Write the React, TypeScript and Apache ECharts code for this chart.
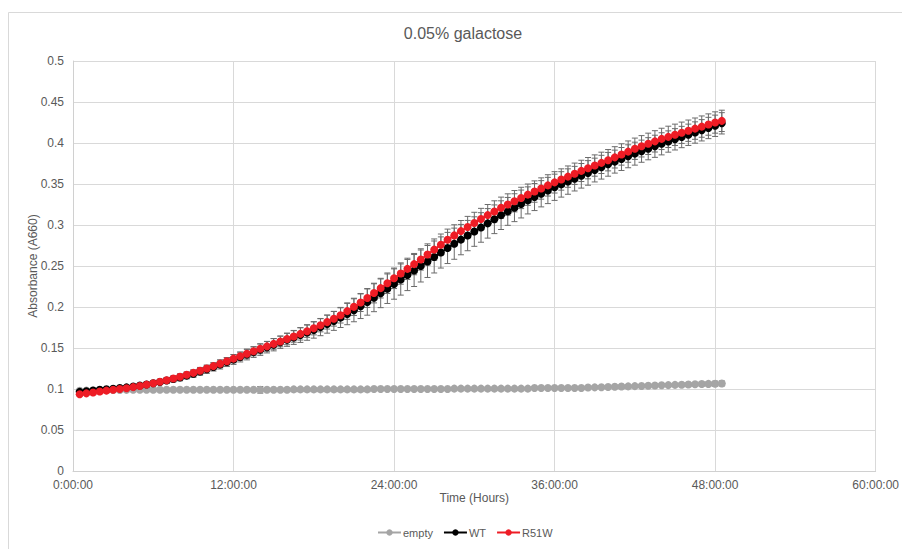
import React, { useEffect, useRef } from "react";
import * as echarts from "echarts";

const title = "0.05% galactose";
const seriesNames = ["empty", "WT", "R51W"];
const seriesColors = ["#A5A5A5", "#000000", "#EE1C25"];
const xTicks = [0, 12, 24, 36, 48, 60];

const hours = [
  0.5, 1, 1.5, 2, 2.5, 3, 3.5, 4, 4.5, 5, 5.5, 6, 6.5, 7, 7.5, 8,
  8.5, 9, 9.5, 10, 10.5, 11, 11.5, 12, 12.5, 13, 13.5, 14, 14.5, 15, 15.5, 16,
  16.5, 17, 17.5, 18, 18.5, 19, 19.5, 20, 20.5, 21, 21.5, 22, 22.5, 23, 23.5, 24,
  24.5, 25, 25.5, 26, 26.5, 27, 27.5, 28, 28.5, 29, 29.5, 30, 30.5, 31, 31.5, 32,
  32.5, 33, 33.5, 34, 34.5, 35, 35.5, 36, 36.5, 37, 37.5, 38, 38.5, 39, 39.5, 40,
  40.5, 41, 41.5, 42, 42.5, 43, 43.5, 44, 44.5, 45, 45.5, 46, 46.5, 47, 47.5, 48,
  48.5,
];

const emptyValues = [
  0.0978, 0.098, 0.0982, 0.0984, 0.0986, 0.0987, 0.0988, 0.0989,
  0.099, 0.099, 0.099, 0.099, 0.099, 0.099, 0.099, 0.099,
  0.099, 0.099, 0.099, 0.099, 0.099, 0.099, 0.099, 0.099,
  0.099, 0.099, 0.099, 0.099, 0.099, 0.099, 0.099, 0.099,
  0.0995, 0.0995, 0.0995, 0.0995, 0.0995, 0.0995, 0.0995, 0.0995,
  0.0995, 0.0995, 0.0995, 0.0995, 0.1, 0.1, 0.1, 0.1,
  0.1, 0.1, 0.1, 0.1, 0.1, 0.1, 0.1, 0.1,
  0.1005, 0.1005, 0.1005, 0.1005, 0.1005, 0.1005, 0.1005, 0.1005,
  0.1005, 0.1005, 0.1005, 0.1005, 0.1012, 0.1012, 0.1012, 0.1012,
  0.1012, 0.1012, 0.1012, 0.1012, 0.1018, 0.102, 0.1022, 0.1025,
  0.1027, 0.103, 0.1032, 0.1035, 0.1037, 0.104, 0.1042, 0.1045,
  0.1047, 0.105, 0.1052, 0.1055, 0.1057, 0.106, 0.1062, 0.1065,
  0.1068,
];

const wtValues = [
  0.0965, 0.0973, 0.0981, 0.099, 0.0997, 0.1004, 0.1012, 0.102,
  0.103, 0.1042, 0.1055, 0.107, 0.1086, 0.1103, 0.1121, 0.114,
  0.1163, 0.1187, 0.1213, 0.124, 0.1269, 0.1299, 0.1329, 0.136,
  0.139, 0.142, 0.145, 0.148, 0.151, 0.154, 0.157, 0.16,
  0.1629, 0.1658, 0.1689, 0.172, 0.1755, 0.1791, 0.183, 0.187,
  0.1914, 0.196, 0.2009, 0.206, 0.2113, 0.2167, 0.2223, 0.228,
  0.2335, 0.239, 0.2445, 0.25, 0.2555, 0.261, 0.2665, 0.272,
  0.2772, 0.2822, 0.2871, 0.292, 0.297, 0.302, 0.307, 0.312,
  0.3166, 0.3211, 0.3256, 0.33, 0.3341, 0.3381, 0.3421, 0.346,
  0.3495, 0.353, 0.3565, 0.36, 0.3635, 0.367, 0.3705, 0.374,
  0.3773, 0.3805, 0.3838, 0.387, 0.39, 0.393, 0.396, 0.399,
  0.4018, 0.4045, 0.4073, 0.41, 0.4128, 0.4155, 0.4183, 0.421,
  0.424,
];

const r51wValues = [
  0.0935, 0.0947, 0.0958, 0.097, 0.098, 0.099, 0.1, 0.101,
  0.1023, 0.1037, 0.1053, 0.107, 0.1088, 0.1107, 0.1128, 0.115,
  0.1173, 0.1197, 0.1223, 0.125, 0.1279, 0.1309, 0.1339, 0.137,
  0.14, 0.143, 0.146, 0.149, 0.152, 0.155, 0.158, 0.161,
  0.1641, 0.1672, 0.1705, 0.174, 0.1777, 0.1816, 0.1857, 0.19,
  0.195, 0.2002, 0.2055, 0.211, 0.217, 0.223, 0.229, 0.235,
  0.2408, 0.2465, 0.2523, 0.258, 0.264, 0.27, 0.276, 0.282,
  0.2873, 0.2925, 0.2975, 0.3025, 0.3073, 0.312, 0.3165, 0.321,
  0.325, 0.329, 0.333, 0.337, 0.3408, 0.3445, 0.3483, 0.352,
  0.3555, 0.359, 0.3625, 0.366, 0.3693, 0.3725, 0.3758, 0.379,
  0.3825, 0.386, 0.3895, 0.393, 0.396, 0.399, 0.402, 0.405,
  0.4075, 0.41, 0.4125, 0.415, 0.4175, 0.42, 0.4225, 0.425,
  0.427,
];

const emptyErr = [
  0.001, 0.001, 0.001, 0.001, 0.001, 0.001, 0.001, 0.001,
  0.001, 0.001, 0.001, 0.001, 0.001, 0.001, 0.001, 0.001,
  0.001, 0.001, 0.001, 0.001, 0.001, 0.001, 0.001, 0.001,
  0.001, 0.001, 0.001, 0.004, 0.001, 0.001, 0.001, 0.001,
  0.001, 0.001, 0.001, 0.001, 0.001, 0.001, 0.001, 0.001,
  0.001, 0.001, 0.001, 0.001, 0.001, 0.001, 0.001, 0.001,
  0.001, 0.001, 0.001, 0.001, 0.001, 0.001, 0.001, 0.001,
  0.001, 0.001, 0.001, 0.001, 0.001, 0.001, 0.001, 0.001,
  0.001, 0.001, 0.001, 0.001, 0.001, 0.001, 0.001, 0.001,
  0.001, 0.001, 0.001, 0.001, 0.001, 0.001, 0.001, 0.001,
  0.001, 0.001, 0.001, 0.001, 0.001, 0.001, 0.001, 0.001,
  0.0015, 0.0015, 0.002, 0.002, 0.002, 0.0025, 0.0025, 0.003,
  0.003,
];

const wtErr = [
  0.002, 0.002, 0.002, 0.002, 0.002, 0.002, 0.002, 0.002,
  0.0025, 0.0025, 0.003, 0.003, 0.003, 0.0035, 0.0035, 0.004,
  0.004, 0.0045, 0.0045, 0.005, 0.005, 0.0055, 0.0055, 0.006,
  0.006, 0.0065, 0.0065, 0.007, 0.007, 0.0075, 0.0075, 0.008,
  0.0085, 0.009, 0.0095, 0.01, 0.0105, 0.011, 0.0115, 0.012,
  0.013, 0.014, 0.015, 0.016, 0.017, 0.0175, 0.018, 0.0185,
  0.019, 0.019, 0.0195, 0.0195, 0.0195, 0.0195, 0.019, 0.019,
  0.019, 0.0185, 0.0185, 0.018, 0.018, 0.018, 0.0175, 0.0175,
  0.017, 0.017, 0.017, 0.0165, 0.0165, 0.016, 0.016, 0.016,
  0.0155, 0.0155, 0.015, 0.015, 0.015, 0.0145, 0.0145, 0.0145,
  0.014, 0.014, 0.014, 0.014, 0.0135, 0.0135, 0.0135, 0.0135,
  0.013, 0.013, 0.013, 0.013, 0.013, 0.013, 0.013, 0.013,
  0.013,
];

const r51wErr = [
  0.002, 0.002, 0.002, 0.002, 0.002, 0.002, 0.002, 0.002,
  0.002, 0.0025, 0.0025, 0.0025, 0.003, 0.003, 0.003, 0.0035,
  0.0035, 0.0035, 0.004, 0.004, 0.004, 0.0045, 0.0045, 0.005,
  0.005, 0.0055, 0.0055, 0.006, 0.006, 0.0065, 0.0065, 0.007,
  0.007, 0.0075, 0.0075, 0.008, 0.008, 0.0085, 0.009, 0.0095,
  0.01, 0.0105, 0.011, 0.0115, 0.012, 0.012, 0.0125, 0.0125,
  0.013, 0.013, 0.013, 0.013, 0.013, 0.013, 0.013, 0.013,
  0.013, 0.013, 0.013, 0.013, 0.013, 0.013, 0.013, 0.013,
  0.013, 0.013, 0.013, 0.013, 0.013, 0.013, 0.013, 0.013,
  0.013, 0.013, 0.013, 0.013, 0.013, 0.013, 0.013, 0.013,
  0.013, 0.013, 0.013, 0.013, 0.013, 0.013, 0.013, 0.013,
  0.013, 0.013, 0.013, 0.013, 0.013, 0.013, 0.013, 0.013,
  0.013,
];

const FONT = "'Liberation Sans', Arial, sans-serif";
const TEXT = "#595959";

function errorSeries(values: number[], errs: number[], z: number) {
  return {
    type: "custom",
    silent: true,
    z,
    data: hours.map((h, i) => [h, values[i] - errs[i], values[i] + errs[i]]),
    encode: { x: 0, y: [1, 2] },
    renderItem: (params: any, api: any) => {
      const x = api.value(0);
      const lo = api.coord([x, api.value(1)]);
      const hi = api.coord([x, api.value(2)]);
      const w = 3;
      const style = { stroke: "#6b6b6b", lineWidth: 1 };
      return {
        type: "group",
        children: [
          { type: "line", shape: { x1: lo[0], y1: lo[1], x2: hi[0], y2: hi[1] }, style },
          { type: "line", shape: { x1: lo[0] - w, y1: lo[1], x2: lo[0] + w, y2: lo[1] }, style },
          { type: "line", shape: { x1: hi[0] - w, y1: hi[1], x2: hi[0] + w, y2: hi[1] }, style },
        ],
      };
    },
  };
}

function lineSeries(name: string, values: number[], color: string, z: number) {
  return {
    type: "line",
    name,
    z,
    data: hours.map((h, i) => [h, values[i]]),
    symbol: "circle",
    symbolSize: 8,
    showSymbol: true,
    lineStyle: { color, width: 2 },
    itemStyle: { color },
  };
}

export default function App() {
  const ref = useRef<HTMLDivElement>(null);
  useEffect(() => {
    document.body.style.margin = "0";
    const chart = echarts.init(ref.current!, null, { renderer: "svg" });
    chart.setOption({
      animation: false,
      backgroundColor: "#ffffff",
      title: {
        text: title,
        left: 458,
        top: 20,
        textAlign: "center",
        textStyle: { fontFamily: FONT, fontSize: 16, fontWeight: "normal", color: TEXT },
      },
      graphic: [
        {
          type: "rect",
          shape: { x: 8.5, y: 12.5, width: 1000, height: 1000 },
          style: { fill: "none", stroke: "#d9d9d9", lineWidth: 1 },
          silent: true,
        },
      ],
      legend: {
        data: seriesNames,
        bottom: 6,
        left: 372,
        itemWidth: 23,
        itemHeight: 8,
        itemGap: 10,
        textStyle: { fontFamily: FONT, fontSize: 11, color: TEXT, padding: [0, 0, 0, -3] },
      },
      grid: { left: 73, right: 24, top: 61, bottom: 78 },
      xAxis: {
        type: "value",
        min: xTicks[0],
        max: xTicks[xTicks.length - 1],
        interval: 12,
        name: "Time (Hours)",
        nameLocation: "middle",
        nameGap: 21,
        nameMoveOverlap: false,
        nameTextStyle: { fontFamily: FONT, fontSize: 12, color: TEXT },
        axisLine: { show: true, lineStyle: { color: "#d0d0d0" } },
        axisTick: { show: false },
        axisLabel: {
          fontFamily: FONT,
          fontSize: 12,
          color: TEXT,
          margin: 8,
          formatter: (v: number) => `${v}:00:00`,
        },
        splitLine: { show: true, lineStyle: { color: "#d9d9d9" } },
      },
      yAxis: {
        type: "value",
        min: 0,
        max: 0.5,
        interval: 0.05,
        name: "Absorbance (A660)",
        nameLocation: "middle",
        nameGap: 34,
        nameMoveOverlap: false,
        nameTextStyle: { fontFamily: FONT, fontSize: 12, color: TEXT },
        axisLine: { show: true, lineStyle: { color: "#d0d0d0" } },
        axisTick: { show: false },
        axisLabel: {
          fontFamily: FONT,
          fontSize: 12,
          color: TEXT,
          margin: 9,
          formatter: (v: number) => String(Math.round(v * 100) / 100),
        },
        splitLine: { show: true, lineStyle: { color: "#d9d9d9" } },
      },
      series: [
        errorSeries(emptyValues, emptyErr, 1),
        errorSeries(wtValues, wtErr, 1),
        errorSeries(r51wValues, r51wErr, 1),
        lineSeries(seriesNames[0], emptyValues, seriesColors[0], 2),
        lineSeries(seriesNames[1], wtValues, seriesColors[1], 3),
        lineSeries(seriesNames[2], r51wValues, seriesColors[2], 4),
      ],
    });
    return () => chart.dispose();
  }, []);
  return <div ref={ref} style={{ width: 902, height: 549 }} />;
}
